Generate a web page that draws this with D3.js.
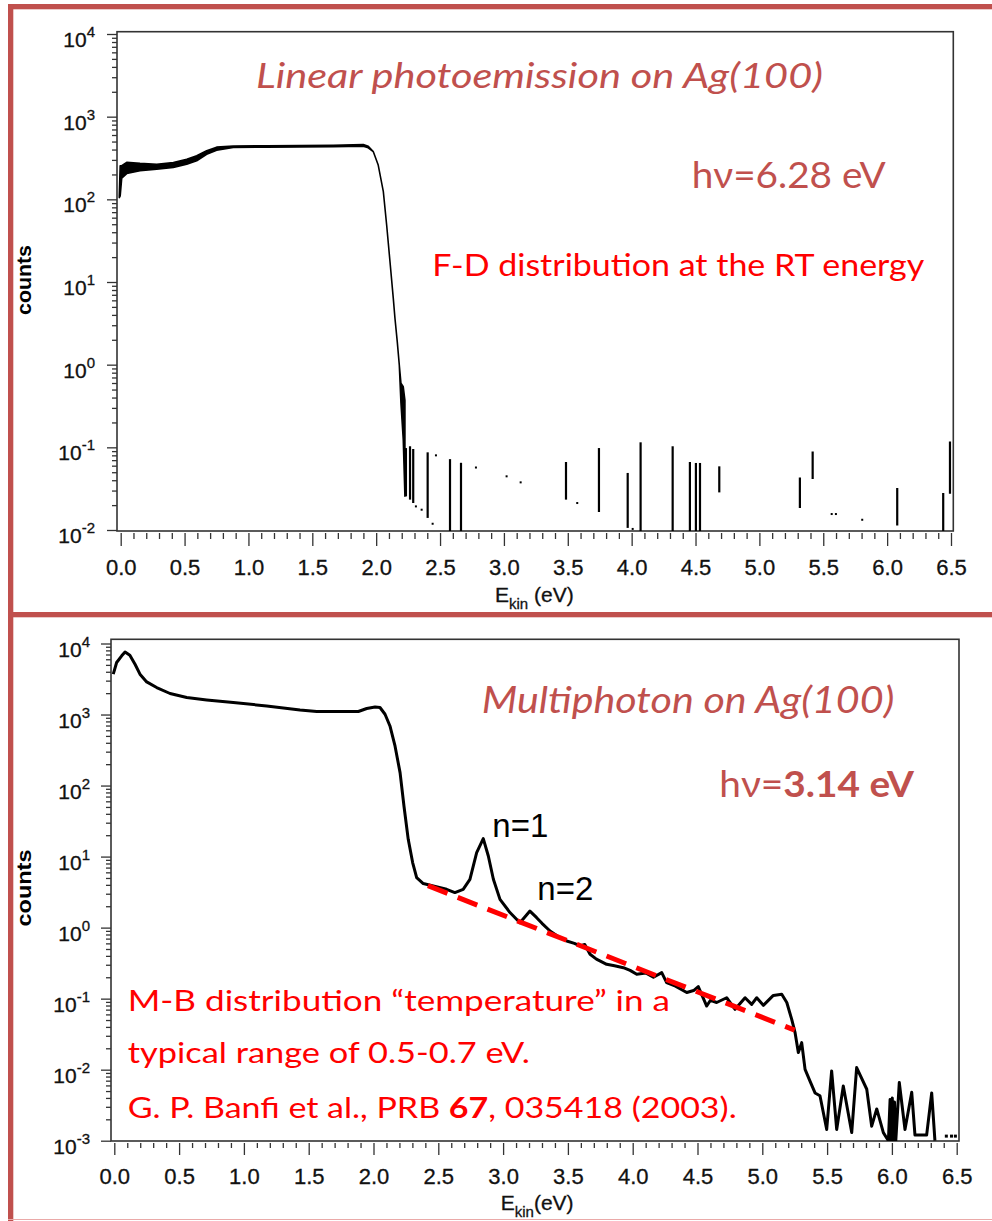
<!DOCTYPE html>
<html>
<head>
<meta charset="utf-8">
<script src="https://cdn.jsdelivr.net/npm/d3@7"></script>
<style>
  body { margin: 0; background: #fff; }
  svg text { font-family: "Liberation Sans", Arial, sans-serif; }
  svg text.note { font-family: Lato, "Open Sans", sans-serif; }
</style>
</head>
<body>
<div id="chart"></div>
<script>
// ---- top panel: linear photoemission, hv = 6.28 eV (trace envelope lo/hi) ----
var linE  = [-0.011, -0.004, 0.008, 0.047, 0.151, 0.282, 0.412, 0.517, 0.595, 0.673, 0.751, 0.881, 1.143, 1.664, 1.899, 1.938, 1.977, 2.016, 2.056, 2.082, 2.108, 2.134, 2.147, 2.165, 2.181, 2.194, 2.212, 2.225];
var linLo = [105, 110, 180, 205, 222, 232, 243, 266, 292, 350, 392, 424, 427, 434, 440, 420, 378, 260, 124, 48.9, 17.7, 6.35, 3.64, 1.90, 0.99, 0.342, 0.124, 0.0257];
var linHi = [110, 255, 255, 280, 272, 266, 279, 306, 336, 388, 428, 442, 445, 452, 459, 438, 378, 260, 124, 48.9, 17.7, 6.35, 3.64, 1.90, 0.99, 0.596, 0.54, 0.37];

// isolated noise counts above the cutoff (vertical bars and single points)
var spikeE  = [2.233, 2.265, 2.290, 2.403, 2.578, 2.664, 3.486, 3.744, 3.969, 4.070, 4.321, 4.456, 4.503, 4.535, 4.686, 5.317, 5.417, 6.079, 6.439, 6.492];
var spikeLo = [0.0255, 0.0233, 0.0212, 0.014, 0.0095, 0.0095, 0.0233, 0.0165, 0.0106, 0.0095, 0.0095, 0.0095, 0.0095, 0.0095, 0.0285, 0.0185, 0.0414, 0.0113, 0.0095, 0.0275];
var spikeHi = [0.098, 0.103, 0.0955, 0.087, 0.072, 0.065, 0.0665, 0.098, 0.049, 0.115, 0.103, 0.0665, 0.0647, 0.0647, 0.0589, 0.0433, 0.0893, 0.0323, 0.028, 0.118];
var dotE = [2.311, 2.356, 2.442, 2.468, 2.781, 3.021, 3.131, 3.574, 4.008, 5.566, 5.599, 5.805];
var dotC = [0.0193, 0.0176, 0.0119, 0.080, 0.057, 0.0446, 0.0377, 0.0212, 0.0103, 0.0156, 0.0156, 0.0133];

// ---- bottom panel: multiphoton, hv = 3.14 eV ----
var mpE = [-0.008, 0.018, 0.057, 0.083, 0.12, 0.16, 0.198, 0.25, 0.327, 0.43, 0.559, 0.713, 0.918, 1.176, 1.433, 1.562, 1.883, 1.948, 2.012, 2.05, 2.089, 2.127, 2.166, 2.205, 2.235, 2.268, 2.302, 2.333, 2.384, 2.461, 2.564, 2.628, 2.692, 2.744, 2.796, 2.847, 2.886, 2.925, 2.976, 3.053, 3.13, 3.207, 3.259, 3.30, 3.362, 3.43, 3.491, 3.55, 3.594, 3.63, 3.671, 3.72, 3.799, 3.86, 3.928, 3.98, 4.031, 4.10, 4.16, 4.224, 4.262, 4.33, 4.417, 4.47, 4.506, 4.571, 4.60, 4.648, 4.725, 4.79, 4.867, 4.918, 4.957, 5.008, 5.085, 5.15, 5.189, 5.227, 5.253, 5.278, 5.304, 5.33, 5.368, 5.407, 5.445, 5.497, 5.535, 5.574, 5.625, 5.69, 5.728, 5.806, 5.844, 5.883, 5.934, 5.973, 5.986, 5.995, 6.003, 6.011, 6.02, 6.03, 6.057, 6.101, 6.153, 6.178, 6.268, 6.307, 6.332];
var mpC = [3700, 5400, 6700, 7600, 6850, 5100, 3700, 2880, 2400, 1977, 1735, 1606, 1475, 1322, 1161, 1102, 1102, 1215, 1280, 1256, 1009, 690, 361, 152, 51.6, 17.5, 8.23, 5.06, 4.17, 3.85, 3.46, 3.11, 3.46, 4.79, 11.4, 17.9, 10.2, 4.79, 2.5, 1.63, 1.17, 1.71, 1.38, 1.15, 0.895, 0.74, 0.648, 0.60, 0.551, 0.58, 0.421, 0.36, 0.304, 0.29, 0.273, 0.25, 0.22, 0.23, 0.20, 0.232, 0.168, 0.15, 0.122, 0.13, 0.148, 0.0787, 0.095, 0.0882, 0.103, 0.0707, 0.103, 0.083, 0.103, 0.0805, 0.111, 0.115, 0.0882, 0.051, 0.0332, 0.0174, 0.024, 0.0101, 0.0069, 0.0047, 0.0043, 0.00144, 0.0096, 0.00144, 0.00588, 0.0013, 0.0107, 0.0053, 0.0016, 0.0028, 0.0013, 0.001, 0.0038, 0.001, 0.0040, 0.001, 0.0035, 0.001, 0.0066, 0.00144, 0.0048, 0.0012, 0.0012, 0.0047, 0.001];
var mpDotE = [6.42, 6.46, 6.49];
var mpDotC = [0.00116, 0.00116, 0.00116];

// Maxwell-Boltzmann guide line (dashed)
var fitE = [2.42, 5.25];
var fitC = [3.9, 0.036];

// axis ticks
var xMajor = [0, 0.5, 1, 1.5, 2, 2.5, 3, 3.5, 4, 4.5, 5, 5.5, 6, 6.5];
var topDecades = [-2, -1, 0, 1, 2, 3, 4];
var botDecades = [-3, -2, -1, 0, 1, 2, 3, 4];

var red = "#c0504d";
var width = 992, height = 1221;

var svg = d3.select("#chart").append("svg")
    .attr("width", width)
    .attr("height", height);

// panel frames (positions in pixels)
var top_ = {x0: 117, x1: 953.3, y0: 31.7, y1: 531, labelX: 95, tickY: 533, majorLen: 13, minorLen: 6};
var bot_ = {x0: 111, x1: 959, y0: 639.3, y1: 1141, labelX: 90, tickY: 1143, majorLen: 12, minorLen: 5};

var x1 = d3.scaleLinear().domain([0, 6.5]).range([120.7, 951]);
var y1 = d3.scaleLog().domain([1e-2, 1e4]).range([530, 34]);
var x2 = d3.scaleLinear().domain([0, 6.5]).range([114.3, 956.7]);
var y2 = d3.scaleLog().domain([1e-3, 1e4]).range([1140.7, 643.5]);

function minorsOf(decades) {
  var out = [];
  decades.forEach(function (p, i) {
    if (i == decades.length - 1) return;
    for (var k = 2; k <= 9; k++) out.push(k * Math.pow(10, p));
  });
  return out;
}

function drawAxes(g, x, y, f, decades, clipId) {
  g.append("clipPath").attr("id", clipId)
    .append("rect")
    .attr("x", f.x0).attr("y", f.y0)
    .attr("width", f.x1 - f.x0).attr("height", f.y1 - f.y0);

  var noDomain = function (s) { s.select(".domain").remove(); };

  // y ticks, major and minor
  g.append("g")
    .attr("class", "tick-y")
    .attr("transform", "translate(" + f.x0 + ",0)")
    .call(d3.axisLeft(y).tickValues(decades.map(function (p) { return Math.pow(10, p); })).tickSize(10).tickFormat(""))
    .call(noDomain);
  g.append("g")
    .attr("class", "tick-y")
    .attr("transform", "translate(" + f.x0 + ",0)")
    .call(d3.axisLeft(y).tickValues(minorsOf(decades)).tickSize(5).tickFormat(""))
    .call(noDomain);

  // y labels 10^n
  var lab = g.append("g").selectAll("text")
    .data(decades)
    .join("text")
    .attr("x", f.labelX)
    .attr("y", function (p) { return y(Math.pow(10, p)) + 13; })
    .attr("text-anchor", "end")
    .attr("font-size", 21)
    .attr("fill", "#111")
    .attr("stroke", "#111")
    .attr("stroke-width", 0.3);
  lab.append("tspan").text("10");
  lab.append("tspan").attr("dy", -10).attr("font-size", 15).text(function (p) { return p; });

  // x ticks hang below the frame
  var minorX = d3.range(0, 66).filter(function (i) { return i % 5 != 0; }).map(function (i) { return i / 10; });
  g.append("g")
    .attr("class", "tick-x")
    .attr("transform", "translate(0," + f.tickY + ")")
    .call(d3.axisBottom(x).tickValues(xMajor).tickSize(f.majorLen).tickPadding(13).tickFormat(d3.format(".1f")))
    .call(noDomain);
  g.append("g")
    .attr("class", "tick-x")
    .attr("transform", "translate(0," + f.tickY + ")")
    .call(d3.axisBottom(x).tickValues(minorX).tickSize(f.minorLen).tickFormat(""))
    .call(noDomain);

  g.append("rect")
    .attr("x", f.x0).attr("y", f.y0)
    .attr("width", f.x1 - f.x0).attr("height", f.y1 - f.y0)
    .attr("fill", "none")
    .attr("stroke", "#333")
    .attr("stroke-width", 1.6);
}

function yTitle(g, cx, cy, len) {
  g.append("text")
    .attr("transform", "translate(" + cx + "," + cy + ") rotate(-90)")
    .attr("text-anchor", "middle")
    .attr("font-size", 21)
    .attr("font-weight", "bold")
    .attr("textLength", len)
    .attr("lengthAdjust", "spacingAndGlyphs")
    .text("counts");
}

function xTitle(g, x, y, unit) {
  var t = g.append("text").attr("x", x).attr("y", y).attr("font-size", 21).attr("fill", "#111")
    .attr("stroke", "#111").attr("stroke-width", 0.3);
  t.append("tspan").text("E");
  t.append("tspan").attr("dy", 7).attr("font-size", 15).text("kin");
  t.append("tspan").attr("dy", -7).text(unit);
}

function note(g, x, y, size, color, len, parts, italic) {
  var t = g.append("text")
    .attr("class", "note")
    .attr("x", x).attr("y", y)
    .attr("font-size", size)
    .attr("fill", color)
    .attr("textLength", len)
    .attr("lengthAdjust", "spacingAndGlyphs");
  if (italic) t.attr("font-style", "italic");
  parts.forEach(function (p) {
    t.append("tspan").attr("font-weight", p[1] ? "bold" : "normal").text(p[0]);
  });
}

function init() {
  // slide frame lines
  svg.append("rect").attr("x", 8).attr("y", 4).attr("width", 984).attr("height", 5.3).attr("fill", red);
  svg.append("rect").attr("x", 8).attr("y", 4).attr("width", 5.3).attr("height", 1217).attr("fill", red);
  svg.append("rect").attr("x", 8).attr("y", 612).attr("width", 984).attr("height", 5.3).attr("fill", red);
  svg.append("rect").attr("x", 8).attr("y", 1219).attr("width", 984).attr("height", 1).attr("fill", "#eaa9a8");

  // ---------- top panel ----------
  var g1 = svg.append("g");
  drawAxes(g1, x1, y1, top_, topDecades, "clipTop");
  var plot1 = g1.append("g").attr("clip-path", "url(#clipTop)");

  var band = d3.area()
    .x(function (d, i) { return x1(linE[i]); })
    .y0(function (d, i) { return y1(linLo[i]); })
    .y1(function (d, i) { return y1(linHi[i]); });
  plot1.append("path")
    .datum(linE)
    .attr("d", band)
    .attr("fill", "#000")
    .attr("stroke", "#000")
    .attr("stroke-width", 1.6)
    .attr("stroke-linejoin", "round");

  plot1.selectAll("line.spike")
    .data(spikeE)
    .join("line")
    .attr("class", "spike")
    .attr("x1", function (d) { return x1(d); })
    .attr("x2", function (d) { return x1(d); })
    .attr("y1", function (d, i) { return y1(spikeLo[i]); })
    .attr("y2", function (d, i) { return y1(spikeHi[i]); })
    .attr("stroke", "#000")
    .attr("stroke-width", 2.2);

  plot1.selectAll("rect.dot")
    .data(dotE)
    .join("rect")
    .attr("class", "dot")
    .attr("x", function (d) { return x1(d) - 1; })
    .attr("y", function (d, i) { return y1(dotC[i]) - 1; })
    .attr("width", 2).attr("height", 2)
    .attr("fill", "#000");

  yTitle(g1, 31, 280, 70);
  xTitle(g1, 495, 601.7, " (eV)");

  note(g1, 256, 88.3, 35, red, 567, [["Linear photoemission on Ag(100)", false]], true);
  note(g1, 691.7, 188.3, 37, red, 194, [["h\u03bd=6.28 eV", false]]);
  note(g1, 432.3, 276, 31.5, "#ff0000", 492, [["F-D distribution at the RT energy", false]]);

  // ---------- bottom panel ----------
  var g2 = svg.append("g");
  drawAxes(g2, x2, y2, bot_, botDecades, "clipBot");
  var plot2 = g2.append("g").attr("clip-path", "url(#clipBot)");

  var mpLine = d3.line()
    .x(function (d, i) { return x2(mpE[i]); })
    .y(function (d) { return y2(d); });
  plot2.append("path")
    .datum(mpC)
    .attr("d", mpLine)
    .attr("fill", "none")
    .attr("stroke", "#000")
    .attr("stroke-width", 3)
    .attr("stroke-linejoin", "round");

  plot2.selectAll("rect.dot")
    .data(mpDotE)
    .join("rect")
    .attr("class", "dot")
    .attr("x", function (d) { return x2(d) - 1.5; })
    .attr("y", function (d, i) { return y2(mpDotC[i]) - 1.5; })
    .attr("width", 3).attr("height", 3)
    .attr("fill", "#000");

  var fitLine = d3.line()
    .x(function (d, i) { return x2(fitE[i]); })
    .y(function (d) { return y2(d); });
  plot2.append("path")
    .datum(fitC)
    .attr("d", fitLine)
    .attr("fill", "none")
    .attr("stroke", "#ff0000")
    .attr("stroke-width", 5)
    .attr("stroke-dasharray", "21,11");

  yTitle(g2, 31, 888, 77);
  xTitle(g2, 500.7, 1210, "(eV)");

  note(g2, 481.7, 713.3, 36, red, 412.6, [["Multiphoton on Ag(100)", false]], true);
  note(g2, 719.3, 796.7, 37, red, 194.7, [["h\u03bd=", false], ["3.14 eV", true]]);

  g2.append("text").attr("x", 492.3).attr("y", 836.7).attr("font-size", 33).text("n=1");
  g2.append("text").attr("x", 537.3).attr("y", 900).attr("font-size", 33).text("n=2");

  note(g2, 127.7, 1010.7, 29, "#ff0000", 542.3, [["M-B distribution \u201ctemperature\u201d in a", false]]);
  note(g2, 127.7, 1063.3, 29, "#ff0000", 402.3, [["typical range of 0.5-0.7 eV.", false]]);
  note(g2, 127.7, 1118.3, 29, "#ff0000", 609, [["G. P. Banfi et al., PRB ", false], ["67", true], [", 035418 (2003).", false]]);

  svg.selectAll(".tick line").attr("stroke", "#333").attr("stroke-width", 1.3);
  svg.selectAll(".tick-x text")
    .attr("font-size", 22)
    .attr("font-family", "Liberation Sans, Arial, sans-serif")
    .attr("fill", "#111")
    .attr("stroke", "#111")
    .attr("stroke-width", 0.3);
}

init();
</script>
</body>
</html>
